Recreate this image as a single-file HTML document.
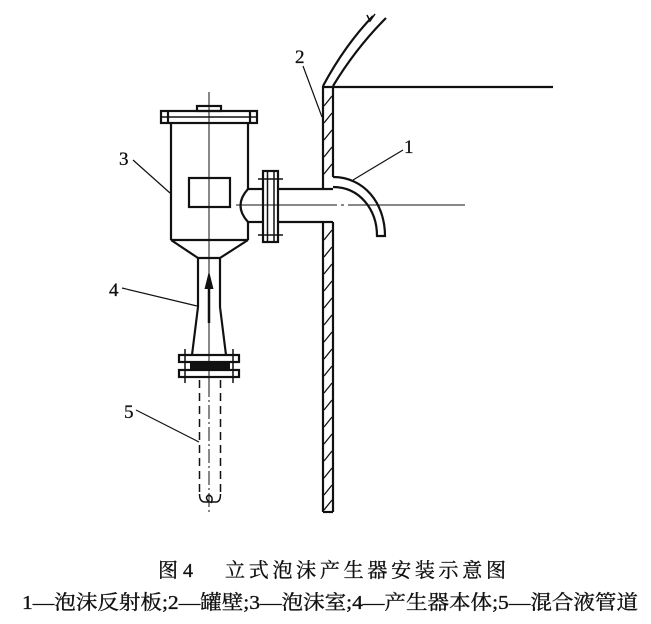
<!DOCTYPE html>
<html>
<head>
<meta charset="utf-8">
<style>
html,body{margin:0;padding:0;background:#fff;}
svg{display:block;}
text{font-family:"Liberation Serif","Noto Serif CJK SC","Noto Sans CJK SC",serif;fill:#111;}
</style>
</head>
<body>
<svg width="651" height="624" viewBox="0 0 651 624" xmlns="http://www.w3.org/2000/svg">
<g fill="none" stroke="#111" stroke-width="2.2" stroke-linecap="butt">
  <!-- tank roof -->
  <line x1="322" y1="87" x2="553" y2="87"/>
  <path d="M323,86 Q345,45 373,16"/>
  <path d="M333,86 Q356,48 386,18"/>
  <path d="M367,15 L370,21 L375,14" stroke-width="1.5"/>
  <!-- tank wall upper -->
  <line x1="323" y1="86" x2="323" y2="189"/>
  <line x1="333" y1="86" x2="333" y2="177"/>
  <!-- tank wall lower -->
  <line x1="323" y1="222" x2="323" y2="512"/>
  <line x1="333" y1="222" x2="333" y2="512"/>
  <line x1="323" y1="222" x2="333" y2="222"/>
  <line x1="323" y1="512" x2="333" y2="512"/>

  <!-- generator cap -->
  <rect x="197" y="106" width="24" height="5"/>
  <!-- top flange -->
  <rect x="161" y="111" width="96" height="12"/>
  <line x1="168" y1="111" x2="168" y2="123"/>
  <line x1="250" y1="111" x2="250" y2="123"/>
  <line x1="161" y1="117" x2="257" y2="117" stroke-width="1.5"/>
  <!-- body -->
  <line x1="171" y1="123" x2="171" y2="240"/>
  <line x1="248" y1="123" x2="248" y2="189"/>
  <line x1="248" y1="222" x2="248" y2="240"/>
  <path d="M248,189 Q233,205.5 248,222"/>
  <line x1="171" y1="240" x2="248" y2="240"/>
  <line x1="171" y1="240" x2="198" y2="258"/>
  <line x1="248" y1="240" x2="220" y2="258"/>
  <line x1="198" y1="258" x2="220" y2="258"/>
  <!-- window -->
  <rect x="189" y="178" width="41" height="29"/>
  <!-- lower pipe -->
  <line x1="198" y1="258" x2="198" y2="307"/>
  <line x1="220" y1="258" x2="220" y2="307"/>
  <line x1="198" y1="307" x2="192" y2="355"/>
  <line x1="220" y1="307" x2="226" y2="355"/>
  <!-- bottom flanges -->
  <rect x="179" y="355" width="60" height="7"/>
  <rect x="179" y="370" width="60" height="7"/>
  <rect x="190" y="362" width="40" height="8" fill="#111" stroke="none"/>
  <line x1="185" y1="349" x2="185" y2="383" stroke-width="1.5"/>
  <line x1="233" y1="349" x2="233" y2="383" stroke-width="1.5"/>

  <!-- outlet pipe -->
  <line x1="248" y1="189" x2="263" y2="189"/>
  <line x1="248" y1="222" x2="263" y2="222"/>
  <line x1="278" y1="189" x2="333" y2="189"/>
  <line x1="278" y1="222" x2="323" y2="222"/>
  <!-- outlet flange -->
  <rect x="263" y="171" width="15" height="71"/>
  <line x1="267.5" y1="171" x2="267.5" y2="242" stroke-width="1.5"/>
  <line x1="274" y1="171" x2="274" y2="242" stroke-width="1.5"/>
  <line x1="258" y1="179" x2="283" y2="179" stroke-width="1.5"/>
  <line x1="258" y1="235" x2="283" y2="235" stroke-width="1.5"/>

  <!-- reflector -->
  <path d="M333,177 C364,177 385,203 385,236 L377,236 C377,210 360,187 333,187"/>
</g>

<!-- hatching -->
<g stroke="#111" stroke-width="1.3">
  <line x1="324" y1="106" x2="332" y2="96"/>
  <line x1="324" y1="123" x2="332" y2="113"/>
  <line x1="324" y1="140" x2="332" y2="130"/>
  <line x1="324" y1="157" x2="332" y2="147"/>
  <line x1="324" y1="174" x2="332" y2="164"/>
  <line x1="324" y1="240" x2="332" y2="230"/>
  <line x1="324" y1="257" x2="332" y2="247"/>
  <line x1="324" y1="274" x2="332" y2="264"/>
  <line x1="324" y1="291" x2="332" y2="281"/>
  <line x1="324" y1="308" x2="332" y2="298"/>
  <line x1="324" y1="325" x2="332" y2="315"/>
  <line x1="324" y1="342" x2="332" y2="332"/>
  <line x1="324" y1="359" x2="332" y2="349"/>
  <line x1="324" y1="376" x2="332" y2="366"/>
  <line x1="324" y1="393" x2="332" y2="383"/>
  <line x1="324" y1="410" x2="332" y2="400"/>
  <line x1="324" y1="427" x2="332" y2="417"/>
  <line x1="324" y1="444" x2="332" y2="434"/>
  <line x1="324" y1="461" x2="332" y2="451"/>
  <line x1="324" y1="478" x2="332" y2="468"/>
  <line x1="324" y1="495" x2="332" y2="485"/>
  <line x1="324" y1="510" x2="332" y2="500"/>
</g>

<!-- center lines -->
<g stroke="#111" stroke-width="1" fill="none">
  <line x1="209" y1="92" x2="209" y2="383"/>
  <line x1="209" y1="383" x2="209" y2="512" stroke-dasharray="14,3,2,3"/>
  <line x1="236" y1="205" x2="337" y2="205"/>
  <line x1="341" y1="205" x2="344" y2="205"/>
  <line x1="348" y1="205" x2="465" y2="205"/>
</g>

<!-- arrow -->
<line x1="209" y1="286" x2="209" y2="323" stroke="#111" stroke-width="2.5"/>
<polygon points="209,271 204.5,289 213.5,289" fill="#111"/>

<!-- dashed pipe -->
<g stroke="#111" stroke-width="1.5" fill="none">
  <line x1="199.5" y1="380" x2="199.5" y2="497" stroke-dasharray="8,5"/>
  <line x1="220.5" y1="380" x2="220.5" y2="497" stroke-dasharray="8,5"/>
  <path d="M199.5,494 Q199.5,502 205,502 L216,502 Q220.5,502 220.5,494"/>
  <path d="M209,502 Q204,497 209,495 Q214,497 211,503"/>
</g>

<!-- leaders -->
<g stroke="#111" stroke-width="1.2">
  <line x1="353" y1="180" x2="403" y2="150"/>
  <line x1="303" y1="66" x2="322" y2="117"/>
  <line x1="133" y1="160" x2="170" y2="193"/>
  <line x1="122" y1="288" x2="197" y2="306"/>
  <line x1="136" y1="410" x2="199" y2="442"/>
</g>

<!-- part numbers -->
<g font-size="19" stroke="#111" stroke-width="0.3">
  <text x="404" y="153">1</text>
  <text x="295" y="63">2</text>
  <text x="119" y="165">3</text>
  <text x="109" y="296">4</text>
  <text x="124" y="418">5</text>
</g>

<!-- caption -->
<g stroke="#111" stroke-width="0.35">
<text x="158" y="577" font-size="20">图 4</text>
<text x="225" y="577" font-size="20" textLength="281" lengthAdjust="spacing">立式泡沫产生器安装示意图</text>
<text x="22" y="609" font-size="20" textLength="616" lengthAdjust="spacingAndGlyphs">1—泡沫反射板;2—罐壁;3—泡沫室;4—产生器本体;5—混合液管道</text>
</g>
</svg>
</body>
</html>
